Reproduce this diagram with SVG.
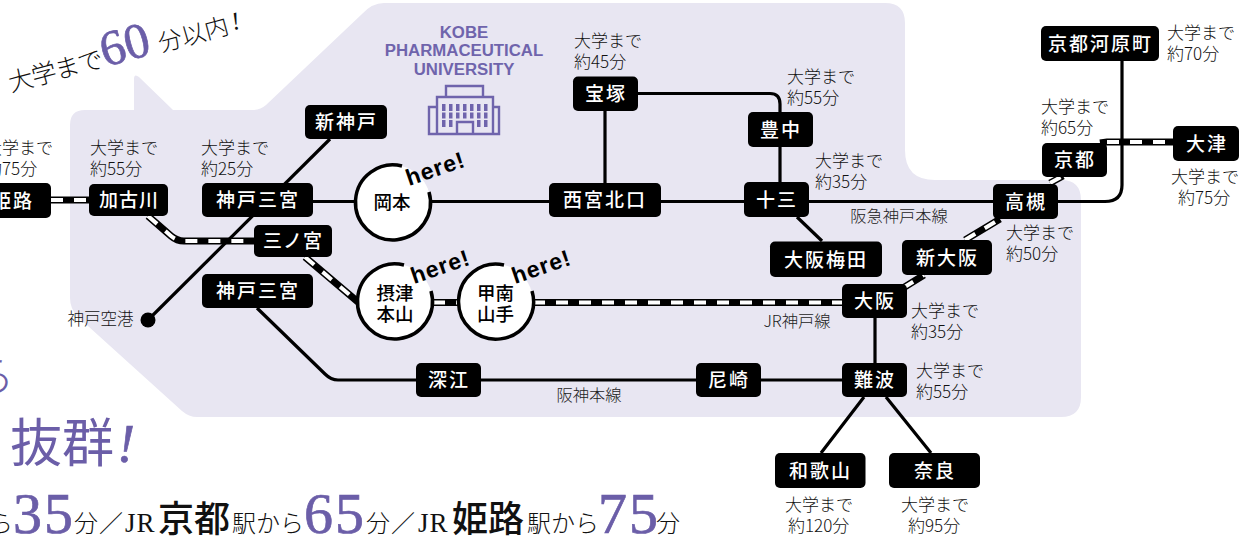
<svg xmlns="http://www.w3.org/2000/svg" width="1252" height="536" viewBox="0 0 1252 536">
<style>
text{font-family:"Noto Sans CJK JP","Liberation Sans",sans-serif}
.st rect{fill:#000}
.st rect{rx:5px}
.st text{fill:#fff;font-size:19px;font-weight:500;text-anchor:middle;letter-spacing:2px}
.st .t3{letter-spacing:1px}
.ci{fill:#fff}
.ca{fill:none;stroke:#000;stroke-width:3.5}
.ct{fill:#000;font-size:18.5px;font-weight:500;text-anchor:middle}
.he{fill:#000;font-family:"Liberation Sans",sans-serif;font-weight:700;font-size:23px;letter-spacing:1px}
.lb{fill:#111;font-size:17px;font-weight:300}
.ln{fill:#222;font-size:16.300px;font-weight:300;text-anchor:middle}
.b{fill:none;stroke:#000;stroke-width:3.2;stroke-linejoin:round}
.jb{fill:none;stroke:#000;stroke-width:7}
.jw{fill:none;stroke:#fff;stroke-width:4;stroke-dasharray:12 11}
.m{font-weight:300;fill:#111}
.k{font-weight:500;fill:#111}
.n{font-family:"Liberation Serif",serif;fill:#6b5ea8;stroke:#6b5ea8;stroke-width:.7}
.jr{font-family:"Liberation Serif",serif;fill:#111}
.p{fill:#6b5ea8}
.ko{fill:#6f64ac;font-family:"Liberation Sans",sans-serif;font-weight:700;font-size:16.800px;text-anchor:middle}
.ic{fill:none;stroke:#6f64ac;stroke-width:2.4}
</style>
<path id="panel" fill="#e8e6f2" d="M85 110H134V79Q134 73 139 77L173 110H252Q260 110 266 105L362 14Q372 3 384 3H885Q905 3 905 23V150Q905 180 935 180H1061Q1081 180 1081 200V397Q1081 417 1061 417H197Q189 417 182 411L78 317Q70 309 70 298V125Q70 110 85 110Z"/>

<g id="heading">
<g transform="translate(11 92) rotate(-15)">
<text x="0" y="0" class="m" font-size="25" letter-spacing="-1">大学まで</text>
<text x="97" y="0" class="n" font-size="50">60</text>
<text x="155" y="0" class="m" font-size="24">分以内</text>
<text x="231" y="-2" class="m" font-size="25" style="font-family:'Liberation Serif',serif;font-style:italic">!</text>
</g>
<text x="-31" y="392" class="p" font-size="46" font-weight="300">ら</text>
<text x="10" y="462" class="p" font-size="52" font-weight="400">抜群</text>
<text x="117" y="462" class="n" font-size="54" font-style="italic">!</text>
<g>
<text x="-11" y="532" class="m" font-size="24">ら</text>
<text x="13" y="533" class="n" font-size="58" letter-spacing="2">35</text>
<text x="74" y="532" class="m" font-size="24">分</text>
<text x="99" y="532" class="m" font-size="24">／</text>
<text x="125" y="532" class="jr" font-size="27" letter-spacing="1">JR</text>
<text x="158" y="532" class="k" font-size="36">京都</text>
<text x="232" y="532" class="m" font-size="24">駅から</text>
<text x="304" y="533" class="n" font-size="58" letter-spacing="2">65</text>
<text x="366" y="532" class="m" font-size="24">分</text>
<text x="391" y="532" class="m" font-size="24">／</text>
<text x="418" y="532" class="jr" font-size="27" letter-spacing="1">JR</text>
<text x="452" y="532" class="k" font-size="36">姫路</text>
<text x="527" y="532" class="m" font-size="24">駅から</text>
<text x="598" y="533" class="n" font-size="58" letter-spacing="2">75</text>
<text x="656" y="532" class="m" font-size="24">分</text>
</g>
</g>

<g id="connectors">
<path class="b" d="M330 139L148 320"/>
<path class="jb" d="M51 200H89M148 216L171 236Q177 241 184 241H254M305 257L358 302M433 302.500H458M533 302.500H842M903 288L924 275M965 240L1000 219M1050 183L1063 176M1100 143L1107 142H1173"/>
<path class="jw" d="M51 200H89M148 216L171 236Q177 241 184 241H254M305 257L358 302M433 302.500H458M533 302.500H842M903 288L924 275M965 240L1000 219M1050 183L1063 176M1107 142H1173"/>
<path class="b" d="M313 201.500H1105Q1122 201.500 1122 185V61"/>
<path class="b" d="M605 111V183M638 93.500H770Q780 93.500 780 104V182M797 217L822 241"/>
<path class="b" d="M257 308L325 374Q331 380 338 380H842M875 318V363M864 397L821 453M886 397L931 453"/>
<circle cx="148" cy="320" r="7.500"/>
</g>

<g id="university">
<text class="ko" x="464" y="38">KOBE</text>
<text class="ko" x="464" y="56">PHARMACEUTICAL</text>
<text class="ko" x="464" y="75">UNIVERSITY</text>
<path class="ic" d="M446 97V86H483V97M437 134V97H493V134M437 107H429V134H499V107H493M457 134V122H473V134"/>
<path fill="#6f64ac" d="M442 104h3.500v7h-3.500zM449 104h3.500v7h-3.500zM456 104h3.500v7h-3.500zM463 104h3.500v7h-3.500zM470 104h3.500v7h-3.500zM477 104h3.500v7h-3.500zM484 104h3.500v7h-3.500zM442 112.500h3.500v6h-3.500zM449 112.500h3.500v6h-3.500zM456 112.500h3.500v6h-3.500zM463 112.500h3.500v6h-3.500zM470 112.500h3.500v6h-3.500zM477 112.500h3.500v6h-3.500zM484 112.500h3.500v6h-3.500zM442 120h3.500v7h-3.500zM449 120h3.500v7h-3.500zM477 120h3.500v7h-3.500zM484 120h3.500v7h-3.500z"/>
</g>

<g id="himeji" class="st"><rect x="-25" y="183" width="76" height="35"/><text x="13" y="208">姫路</text></g>
<g id="kakogawa" class="st"><rect x="89" y="184" width="79" height="32"/><text class="t3" x="129" y="207">加古川</text></g>
<g id="kobe-sannomiya-hankyu" class="st"><rect x="202" y="183" width="111" height="34"/><text x="258" y="207">神戸三宮</text></g>
<g id="shin-kobe" class="st"><rect x="305" y="105" width="82" height="34"/><text x="346.500" y="129">新神戸</text></g>
<g id="sannomiya" class="st"><rect x="254" y="225" width="78" height="32"/><text class="t3" x="293" y="248">三ノ宮</text></g>
<g id="kobe-sannomiya-hanshin" class="st"><rect x="202" y="274" width="111" height="34"/><text x="258" y="298">神戸三宮</text></g>
<g id="takarazuka" class="st"><rect x="573" y="76.500" width="65" height="34.500"/><text x="606" y="101">宝塚</text></g>
<g id="nishinomiya" class="st"><rect x="549" y="183" width="112" height="34"/><text x="605" y="207">西宮北口</text></g>
<g id="toyonaka" class="st"><rect x="748" y="112" width="65" height="35"/><text x="781" y="137">豊中</text></g>
<g id="juso" class="st"><rect x="744" y="182" width="65" height="35"/><text x="777" y="207">十三</text></g>
<g id="osaka-umeda" class="st"><rect x="770" y="241.500" width="112" height="35.500"/><text x="826" y="267">大阪梅田</text></g>
<g id="shin-osaka" class="st"><rect x="902" y="240" width="90" height="35"/><text x="947.500" y="265">新大阪</text></g>
<g id="osaka" class="st"><rect x="842" y="284" width="65" height="34"/><text x="875" y="308">大阪</text></g>
<g id="namba" class="st"><rect x="842" y="363" width="65" height="34"/><text x="875" y="387">難波</text></g>
<g id="amagasaki" class="st"><rect x="696" y="363" width="65" height="34"/><text x="729" y="387">尼崎</text></g>
<g id="fukae" class="st"><rect x="416" y="363" width="65" height="34"/><text x="449" y="387">深江</text></g>
<g id="wakayama" class="st"><rect x="775" y="453" width="90.500" height="35"/><text x="820.500" y="478">和歌山</text></g>
<g id="nara" class="st"><rect x="889" y="453" width="91" height="35"/><text x="935" y="478">奈良</text></g>
<g id="takatsuki" class="st"><rect x="993" y="184" width="65" height="35"/><text x="1026" y="209">高槻</text></g>
<g id="kyoto" class="st"><rect x="1042" y="143" width="65" height="34"/><text x="1075" y="167">京都</text></g>
<g id="kawaramachi" class="st"><rect x="1041" y="26" width="118" height="35"/><text x="1100.500" y="51">京都河原町</text></g>
<g id="otsu" class="st"><rect x="1173" y="126" width="66" height="35"/><text x="1207" y="151">大津</text></g>

<g id="okamoto"><circle class="ci" cx="393" cy="202.500" r="37.500"/><path class="ca" d="M402 166A37.500 37.500 0 1 0 429 192"/><text class="ct" x="392" y="209">岡本</text><text class="he" transform="translate(409 186) rotate(-19)">here!</text></g>
<g id="settsu-motoyama"><circle class="ci" cx="395" cy="301.500" r="37.500"/><path class="ca" d="M404 265A37.500 37.500 0 1 0 431 291"/><text class="ct" x="395" y="300">摂津</text><text class="ct" x="395" y="321">本山</text><text class="he" transform="translate(414 284) rotate(-19)">here!</text></g>
<g id="konan-yamate"><circle class="ci" cx="495.500" cy="301.500" r="37.500"/><path class="ca" d="M504 265A37.500 37.500 0 1 0 532 291"/><text class="ct" x="495.500" y="300">甲南</text><text class="ct" x="495.500" y="321">山手</text><text class="he" transform="translate(515 284) rotate(-19)">here!</text></g>

<g id="labels">
<text class="lb" x="-15" y="154">大学まで</text><text class="lb" x="-15" y="175">約75分</text>
<text class="lb" x="90" y="154">大学まで</text><text class="lb" x="90" y="175">約55分</text>
<text class="lb" x="201" y="154">大学まで</text><text class="lb" x="201" y="175">約25分</text>
<text class="lb" x="574" y="47">大学まで</text><text class="lb" x="574" y="68">約45分</text>
<text class="lb" x="787" y="83">大学まで</text><text class="lb" x="787" y="104">約55分</text>
<text class="lb" x="815" y="167">大学まで</text><text class="lb" x="815" y="188">約35分</text>
<text class="lb" x="1041" y="113">大学まで</text><text class="lb" x="1041" y="134">約65分</text>
<text class="lb" x="1167" y="39">大学まで</text><text class="lb" x="1167" y="60">約70分</text>
<text class="lb" x="1171" y="183">大学まで</text><text class="lb" x="1178" y="204">約75分</text>
<text class="lb" x="1006" y="239">大学まで</text><text class="lb" x="1006" y="260">約50分</text>
<text class="lb" x="911" y="317">大学まで</text><text class="lb" x="911" y="338">約35分</text>
<text class="lb" x="916" y="377">大学まで</text><text class="lb" x="916" y="398">約55分</text>
<text class="lb" x="785" y="511">大学まで</text><text class="lb" x="788" y="532">約120分</text>
<text class="lb" x="901" y="511">大学まで</text><text class="lb" x="908" y="532">約95分</text>
<text class="lb" x="100.500" y="325" style="text-anchor:middle;font-size:16.500px">神戸空港</text>
<text class="ln" x="899" y="222">阪急神戸本線</text>
<text class="ln" x="797" y="327">JR神戸線</text>
<text class="ln" x="589" y="401">阪神本線</text>
</g>
</svg>
